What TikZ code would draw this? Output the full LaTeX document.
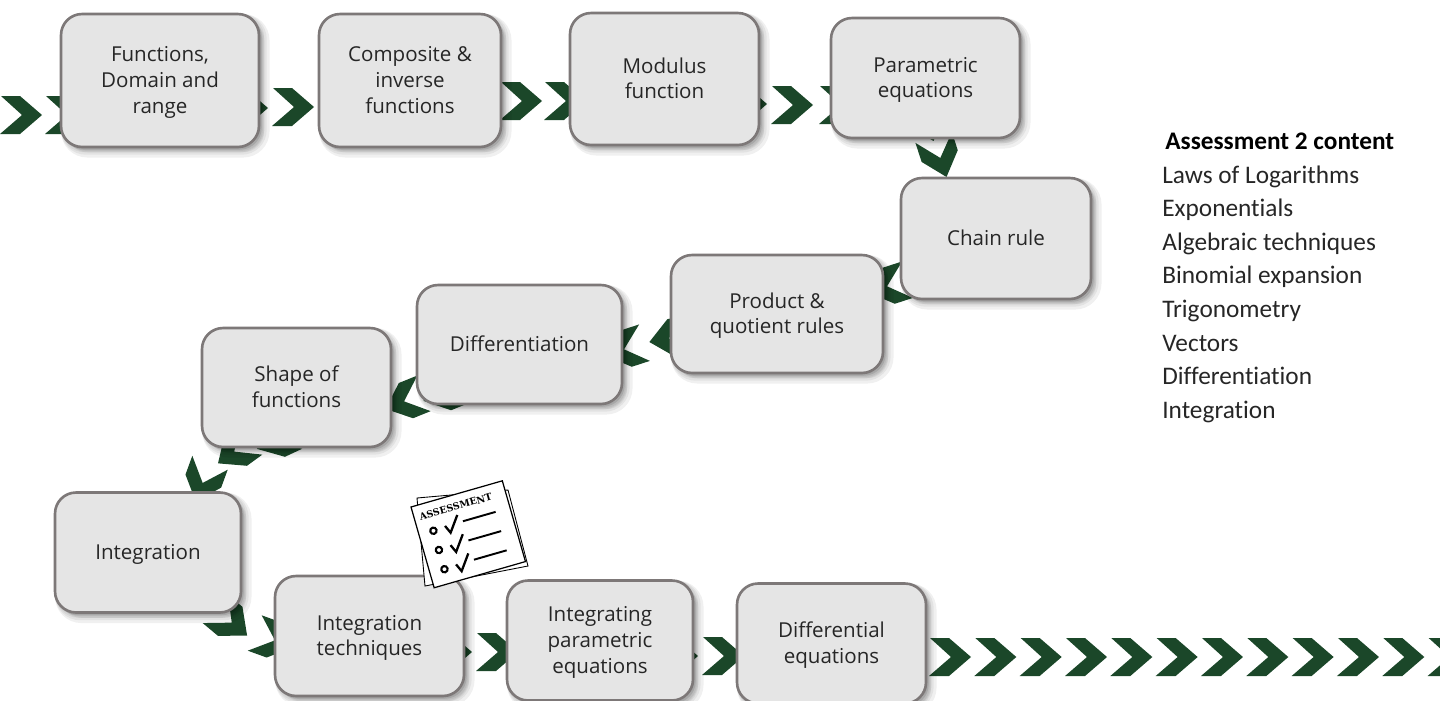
\documentclass[tikz,border=0pt]{standalone}
\usepackage{fontspec}
\usepackage{xcolor}
\usepackage{tikz}
\usetikzlibrary{shadows}
\setmainfont{Open Sans}
\newfontfamily\listfont[Ligatures=NoCommon]{Carlito}
\newfontfamily\stampfont{DejaVu Serif}
\definecolor{forest}{RGB}{27, 71, 41}
\definecolor{topicfill}{RGB}{229, 229, 229}
\definecolor{topicline}{RGB}{125, 120, 120}
\newcommand{\topgap}{\rule{0pt}{12.4pt}}
\tikzset{
    softshade/.style={general shadow={shadow xshift=#1, shadow yshift=-#1, draw=black, fill=black, line width=2*#1, opacity=0.06}},
    topic/.style={draw=topicline, line width=1.5pt, fill=topicfill, rounded corners=12pt,
        softshade=3pt, softshade=2.2pt, softshade=1.5pt, softshade=0.8pt,
        align=center, font=\fontsize{11.7}{14.7}\selectfont, text=black!85, inner sep=0pt,
        execute at end node=\strut},
    item/.style={anchor=base west, inner sep=0pt, font=\listfont\fontsize{14.4}{16}\selectfont, text=black!85},
    chev/.pic={\fill[forest] (-20,-19) -- (-1,-19) -- (21,0) -- (-1,19) -- (-21,19) -- (1,0) -- cycle;}
}

\begin{document}
\begin{tikzpicture}[x=0.02cm, y=-0.02cm]
    \useasboundingbox (0,0) rectangle (1440,700);
    \clip (0,0) rectangle (1440,700);

    % Chevrons behind the topics
    \foreach \x/\y/\r in {21/115/0,66/115/0,247/108/0,293/107/0,521/101/0,565/101/0,746/104/0,792/105/0,840/105/0,
        927/121/-72,940/157/-72,888/286/198,670/338/191,625/349/198,443/393/202,405/401/202,276/440/205,235/451/216,
        203/482/250,231/622/-40,274/640/-20,451/652/0,497/652/0,677/656/0,723/656/0} {
        \pic[rotate=\r] at (\x,\y) {chev};
    }
    \foreach \i in {0,...,11} {
        \pic at (950+45.33*\i,657) {chev};
    }

    % Topics
    \node[topic, minimum width=3.96cm, minimum height=2.66cm] (funcs) at (160,80.5) {\topgap Functions,\\Domain and\\range};
    \node[topic, minimum width=3.64cm, minimum height=2.66cm] (composite) at (410,80.5) {\topgap Composite \&\\inverse\\functions};
    \node[topic, minimum width=3.78cm, minimum height=2.64cm] (modulus) at (664.5,79) {\topgap Modulus\\function};
    \node[topic, minimum width=3.78cm, minimum height=2.4cm] (parametric) at (925.5,78) {\topgap Parametric\\equations};
    \node[topic, minimum width=3.8cm, minimum height=2.42cm] (chain) at (996,238.5) {\topgap Chain rule};
    \node[topic, minimum width=4.24cm, minimum height=2.36cm] (product) at (777,314) {\topgap Product \&\\quotient rules};
    \node[topic, minimum width=4.1cm, minimum height=2.38cm] (diff) at (519.5,344.5) {\topgap Differentiation};
    \node[topic, minimum width=3.78cm, minimum height=2.38cm] (shape) at (296.5,387.5) {\topgap Shape of\\functions};
    \node[topic, minimum width=3.72cm, minimum height=2.4cm] (integ) at (148,552.5) {\topgap Integration};
    \node[topic, minimum width=3.78cm, minimum height=2.4cm] (techniques) at (369.5,636) {\topgap Integration\\techniques};
    \node[topic, minimum width=3.72cm, minimum height=2.4cm] (intparam) at (600,640.5) {\topgap Integrating\\parametric\\equations};
    \node[topic, minimum width=3.78cm, minimum height=2.4cm] (diffeq) at (831.5,643.5) {\topgap Differential\\equations};

    % Assessment sheets
    \filldraw[fill=white, draw=black, line width=0.5pt] (417,498) -- (508,490) -- (528,566) -- (425,586) -- cycle;
    \begin{scope}[shift={(411,507)}, rotate=16]
        \filldraw[fill=white, draw=black, line width=0.7pt] (0,0) rectangle (95,84);
        \node[font=\stampfont\bfseries\fontsize{5.4}{6}\selectfont, inner sep=0pt, rotate=16] (stamp) at (43,12) {ASSESSMENT};
        \foreach \y in {0,20,40} {
            \draw[line width=1.2pt] (15,29+\y) circle (3.2);
            \draw[line width=1.3pt] (27.5,27.6+\y) -- (31,35.6+\y) -- (42.3,20.4+\y);
            \draw[line width=1.1pt] (46,28+\y) -- (80,28+\y);
        }
    \end{scope}

    % Assessment list
    \node[item, font=\listfont\bfseries\fontsize{14.4}{16}\selectfont, text=black] (head) at (1165,149) {Assessment 2 content};
    \foreach \n/\t [count=\i from 0] in {logs/Laws of Logarithms,expo/Exponentials,alg/Algebraic techniques,
        binom/Binomial expansion,trig/Trigonometry,vec/Vectors,dif/Differentiation,int/Integration} {
        \node[item] (\n) at (1162,183+33.6*\i) {\t};
    }
\end{tikzpicture}
\end{document}
